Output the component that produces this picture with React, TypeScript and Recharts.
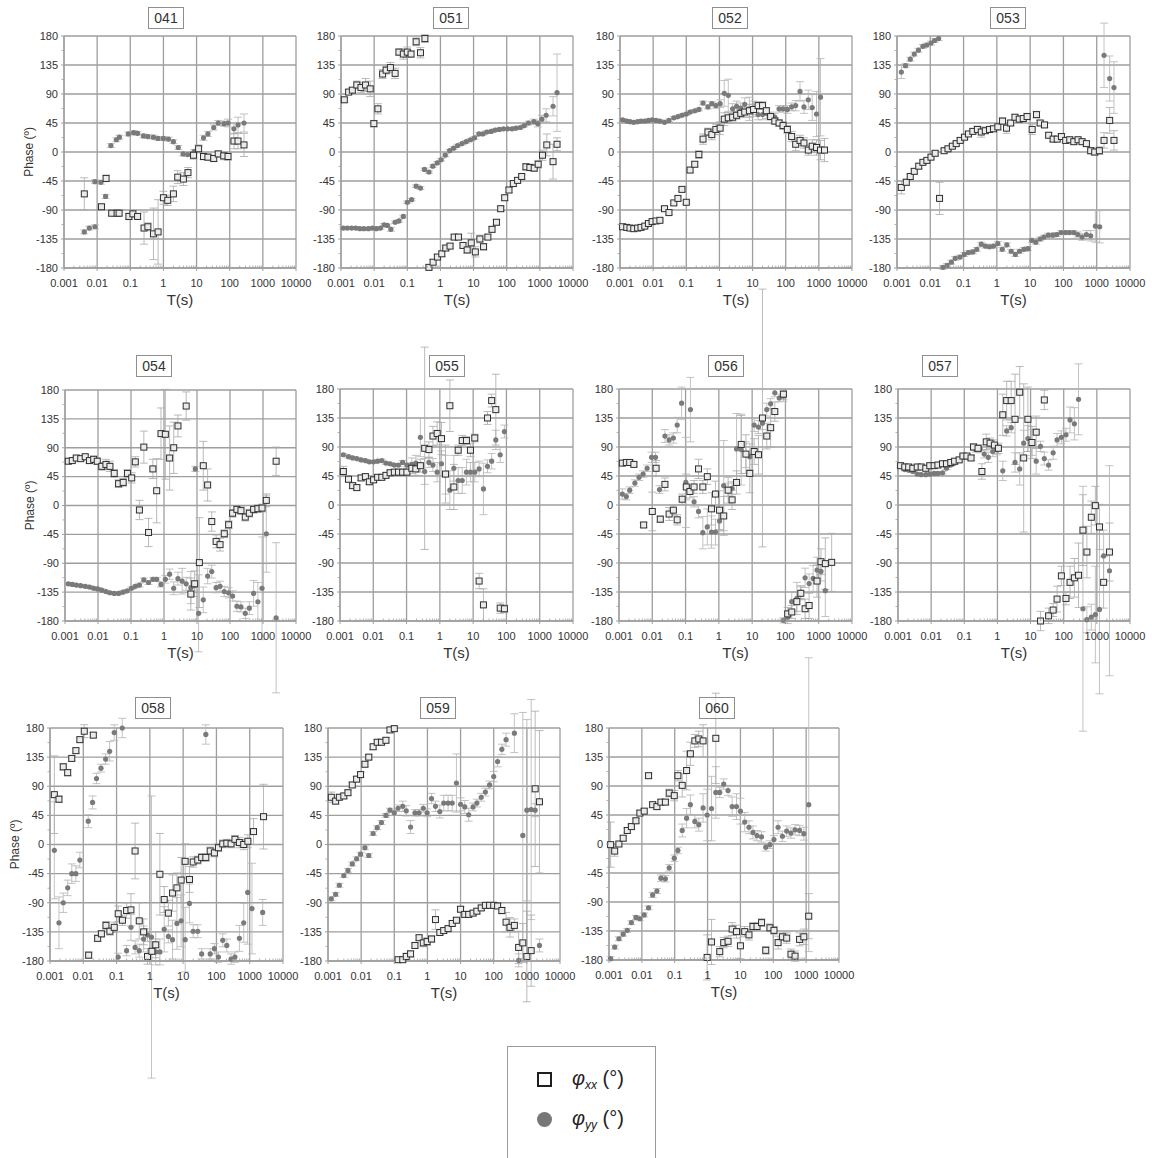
import React from "react";
import { ScatterChart, Scatter, XAxis, YAxis, CartesianGrid, ErrorBar } from "recharts";

// each row: [period T (s), phase (deg), error (deg)]
type Row = [number, number, number];

const periodTicks = [0.001, 0.01, 0.1, 1, 10, 100, 1000, 10000];
const phaseTicks = [-180, -135, -90, -45, 0, 45, 90, 135, 180];
const phaseMinorTicks = [-157.5, -112.5, -67.5, -22.5, 22.5, 67.5, 112.5, 157.5];
const periodMinorTicks = periodTicks
  .slice(0, -1)
  .flatMap((d) => [2, 3, 4, 5, 6, 7, 8, 9].map((m) => +(d * m).toPrecision(3)));
const xTicks = [...periodTicks, ...periodMinorTicks].sort((a, b) => a - b);
const yTicks = [...phaseTicks, ...phaseMinorTicks].sort((a, b) => a - b);

const xx041: Row[] = [[0.0041,-65,25],[0.0135,-85,4],[0.0186,-41,5],[0.0275,-95,4],[0.04,-95,4],[0.046,-95,4],[0.091,-100,5],[0.12,-96,5],[0.166,-100,4],[0.26,-118,25],[0.34,-116,6],[0.5,-127,40],[0.69,-124,50],[1,-71,10],[1.35,-75,8],[2,-65,12],[2.7,-39,10],[4,-42,10],[5.5,-32,8],[8.1,-5,6],[11.5,5,6],[16.2,-7,5],[22,-8,5],[33,-10,5],[45,-3,5],[66,-6,6],[89,-7,6],[134,17,12],[178,17,12],[270,11,18]];
const yy041: Row[] = [[0.0041,-124,3],[0.0058,-118,3],[0.0086,-116,3],[0.0086,-46,3],[0.013,-47,3],[0.018,-69,3],[0.026,10,3],[0.038,19,3],[0.047,23,3],[0.087,28,3],[0.126,30,3],[0.166,29,3],[0.25,25,3],[0.34,24,3],[0.5,23,3],[0.69,21,3],[1,21,3],[1.42,20,3],[2,16,3],[2.8,7,3],[3.9,-3,3],[5.4,-4,3],[8.6,1,3],[11.5,5,4],[16.2,22,4],[22,28,4],[33,38,4],[45,45,4],[67,44,4],[89,45,6],[134,36,8],[178,42,12],[270,45,14]];

const xx051: Row[] = [[0.00126,81,4],[0.0017,93,4],[0.0022,96,4],[0.003,104,6],[0.004,100,8],[0.0055,104,10],[0.0076,98,12],[0.0098,44,5],[0.013,67,8],[0.018,121,7],[0.023,127,6],[0.031,131,8],[0.043,122,8],[0.056,155,5],[0.076,152,8],[0.1,155,8],[0.13,152,5],[0.185,171,6],[0.25,154,8],[0.34,176,6],[0.45,-179,4],[0.6,-171,4],[0.81,-163,4],[1.1,-158,4],[1.45,-149,4],[1.95,-146,4],[2.6,-132,4],[3.5,-132,4],[4.8,-145,4],[6.4,-152,5],[8.5,-141,15],[11.3,-155,8],[15.5,-135,6],[20,-147,5],[27,-132,4],[36,-120,4],[49,-109,4],[66,-88,4],[87,-71,4],[117,-59,4],[158,-49,4],[213,-44,4],[283,-38,4],[380,-23,5],[500,-24,5],[675,-25,5],[890,-19,6],[1200,-5,8],[1620,11,17],[2500,-15,27],[3300,12,10]];
const yy051: Row[] = [[0.00118,-118,2],[0.00155,-118,2],[0.0021,-118,2],[0.0028,-118,2],[0.0037,-119,2],[0.0049,-119,2],[0.0067,-119,2],[0.0089,-118,2],[0.0117,-119,2],[0.0155,-118,2],[0.02,-113,2],[0.025,-114,2],[0.032,-120,3],[0.043,-109,2],[0.056,-107,2],[0.076,-100,2],[0.1,-78,2],[0.135,-74,2],[0.185,-53,2],[0.25,-56,2],[0.33,-27,2],[0.45,-31,2],[0.59,-22,2],[0.8,-17,2],[1.05,-12,2],[1.4,-5,2],[1.9,2,2],[2.5,6,2],[3.3,10,2],[4.5,13,2],[6,16,2],[8.1,19,2],[10.7,22,2],[14.5,28,2],[19,28,2],[25,31,2],[34,32,2],[45,34,2],[60,35,2],[80,36,2],[107,36,2],[145,36,2],[190,37,2],[257,38,2],[340,41,2],[455,45,3],[660,47,4],[870,44,5],[1150,51,6],[1550,57,10],[2500,71,15],[3300,92,60]];

const xx052: Row[] = [[0.0012,-116,2],[0.0016,-117,2],[0.002,-118,2],[0.0026,-119,2],[0.0034,-118,2],[0.0043,-117,2],[0.0056,-115,2],[0.0072,-111,2],[0.0093,-108,2],[0.0122,-107,2],[0.016,-106,2],[0.022,-88,3],[0.03,-94,3],[0.042,-79,3],[0.056,-72,3],[0.074,-58,3],[0.1,-78,3],[0.13,-28,4],[0.18,-19,4],[0.24,-4,6],[0.32,20,8],[0.45,31,6],[0.59,27,8],[0.78,35,8],[1.05,37,10],[1.4,51,10],[1.85,53,8],[2.5,54,6],[3.3,57,6],[4.4,60,6],[5.8,62,8],[8,64,10],[10.7,66,8],[14.7,72,6],[20,72,6],[26,64,5],[35,55,5],[47,48,5],[63,45,5],[83,41,6],[112,35,6],[151,24,8],[200,12,10],[270,18,8],[355,14,8],[480,3,8],[630,9,10],[850,7,12],[1120,3,15],[1480,3,18]];
const yy052: Row[] = [[0.0012,50,2],[0.0016,48,2],[0.002,47,2],[0.0026,46,2],[0.0034,47,2],[0.0043,48,2],[0.0056,48,2],[0.0072,49,2],[0.0093,50,2],[0.0122,49,2],[0.016,48,2],[0.022,46,2],[0.03,49,2],[0.042,53,2],[0.056,55,2],[0.074,57,2],[0.1,59,2],[0.13,62,2],[0.18,64,2],[0.24,66,2],[0.32,76,3],[0.45,70,3],[0.59,75,3],[0.78,72,4],[1.05,75,6],[1.4,91,20],[1.85,88,25],[2.5,67,8],[3.3,71,8],[4.4,68,8],[5.8,74,10],[8,67,18],[10.7,67,12],[14.7,58,8],[20,58,8],[26,60,8],[35,56,6],[47,54,6],[63,67,5],[83,67,5],[112,66,6],[151,70,6],[200,72,8],[270,94,15],[355,70,10],[480,81,15],[630,69,20],[850,59,35],[1120,85,60]];

const xx053: Row[] = [[0.00135,-55,10],[0.0019,-47,5],[0.0025,-38,4],[0.0033,-30,4],[0.0045,-22,4],[0.006,-16,3],[0.0079,-13,3],[0.0105,-8,3],[0.014,-2,3],[0.019,-72,25],[0.026,2,3],[0.034,5,3],[0.046,9,3],[0.06,13,3],[0.079,18,3],[0.107,23,3],[0.14,28,3],[0.19,32,4],[0.26,35,5],[0.34,31,8],[0.45,33,4],[0.6,35,4],[0.79,36,4],[1.07,39,5],[1.48,48,5],[1.95,37,8],[2.6,45,4],[3.5,54,4],[4.7,51,4],[6.2,52,4],[8.1,55,5],[11.5,35,8],[15.5,58,5],[20,45,4],[27,42,4],[36,26,4],[49,20,4],[65,20,4],[87,24,4],[117,18,4],[155,19,4],[205,16,4],[275,19,4],[363,16,4],[490,13,4],[660,2,5],[870,0,5],[1200,2,6],[1660,18,12],[2450,49,20],[3300,18,15]];
const yy053: Row[] = [[0.00135,124,10],[0.0018,134,3],[0.0025,144,3],[0.0033,152,3],[0.0044,158,3],[0.006,164,3],[0.0078,166,3],[0.0105,169,3],[0.0135,173,3],[0.0178,176,3],[0.024,-179,3],[0.032,-176,3],[0.043,-171,3],[0.056,-165,3],[0.078,-163,3],[0.105,-159,3],[0.14,-156,3],[0.19,-155,3],[0.25,-151,3],[0.34,-143,3],[0.45,-146,3],[0.6,-147,3],[0.79,-146,3],[1.07,-142,3],[1.45,-151,3],[2,-144,3],[2.7,-154,3],[3.6,-159,3],[4.8,-154,3],[6.5,-151,3],[8.7,-150,3],[11.2,-137,3],[14.8,-140,3],[20,-135,3],[26,-132,3],[35,-129,3],[48,-129,3],[63,-128,3],[85,-125,3],[115,-125,3],[151,-125,3],[205,-125,3],[270,-128,4],[363,-132,5],[490,-128,6],[660,-130,8],[910,-115,25],[1230,-116,25],[1660,150,50],[2450,114,35],[3300,100,40]];

const xx054: Row[] = [[0.00126,69,3],[0.00166,70,3],[0.0022,74,3],[0.003,73,3],[0.0041,76,3],[0.0055,70,4],[0.0074,72,5],[0.0095,69,5],[0.013,61,6],[0.0174,64,8],[0.023,61,8],[0.031,50,6],[0.042,34,6],[0.058,36,6],[0.078,50,6],[0.105,43,8],[0.135,68,8],[0.18,-7,15],[0.245,91,25],[0.34,-42,22],[0.46,57,15],[0.6,23,50],[0.81,112,40],[1.1,111,70],[1.48,74,50],[1.97,90,40],[2.65,124,17],[4.7,155,22],[6.5,-138,25],[8.5,-122,20],[11.8,-89,70],[15.5,62,38],[21,32,25],[28,-25,15],[38,-56,10],[50,-61,10],[67,-44,6],[91,-30,6],[120,-12,6],[162,-6,6],[215,-8,6],[290,-18,6],[385,-12,6],[520,-6,6],[700,-5,6],[935,-4,6],[1260,8,10],[2500,69,22]];
const yy054: Row[] = [[0.00126,-122,2],[0.00166,-123,2],[0.0022,-124,2],[0.003,-125,2],[0.0041,-126,2],[0.0055,-127,2],[0.0074,-129,2],[0.0097,-130,2],[0.013,-132,2],[0.0174,-134,2],[0.023,-136,2],[0.031,-137,2],[0.042,-137,2],[0.057,-135,2],[0.077,-133,2],[0.103,-129,2],[0.135,-126,2],[0.18,-124,3],[0.245,-116,3],[0.34,-120,3],[0.46,-115,3],[0.6,-115,3],[0.81,-123,4],[1.1,-115,6],[1.48,-107,8],[1.97,-129,10],[2.65,-114,10],[3.55,-118,20],[4.7,-122,10],[6.5,-128,25],[8.3,-125,8],[8.9,57,4],[11.2,-168,60],[15.5,-147,20],[21,-110,12],[28,-103,10],[38,-128,8],[50,-126,8],[67,-134,8],[91,-136,8],[120,-141,8],[162,-157,8],[215,-158,8],[290,-168,8],[385,-160,10],[520,-137,20],[700,-150,30],[935,-129,80],[1260,-44,60],[2500,-175,117]];

const xx055: Row[] = [[0.00126,52,8],[0.0018,40,4],[0.0024,30,4],[0.0032,27,4],[0.0043,42,4],[0.0058,44,4],[0.0076,36,4],[0.0102,39,4],[0.0135,43,4],[0.018,43,4],[0.024,46,4],[0.032,50,4],[0.043,51,4],[0.057,51,4],[0.076,51,4],[0.102,51,4],[0.144,57,8],[0.19,56,10],[0.26,61,10],[0.35,88,157],[0.47,86,12],[0.62,107,15],[0.83,111,18],[1.12,103,25],[1.48,48,45],[2,154,40],[2.63,28,35],[3.55,85,8],[4.7,100,8],[6.3,100,6],[8.3,85,10],[11.2,104,6],[15.1,-118,12],[20.4,-155,25],[27,135,10],[36,162,10],[48,148,55],[65,-160,8],[87,-161,6]];
const yy055: Row[] = [[0.00126,78,2],[0.0018,75,2],[0.0024,73,2],[0.0032,72,2],[0.0043,70,2],[0.0058,69,2],[0.0076,67,2],[0.0102,67,2],[0.0135,68,2],[0.018,69,2],[0.024,65,2],[0.032,64,2],[0.043,62,2],[0.057,62,2],[0.076,66,3],[0.102,62,3],[0.144,63,10],[0.19,65,12],[0.26,105,30],[0.35,52,20],[0.47,66,8],[0.62,62,10],[0.83,51,15],[1.12,64,20],[1.48,47,30],[2,23,30],[2.63,57,20],[3.55,38,20],[4.7,38,20],[6.3,51,20],[8.3,51,15],[11.2,51,15],[15.1,56,12],[20.4,25,40],[27,60,10],[36,68,12],[48,101,15],[65,78,12],[87,114,10]];

const xx056: Row[] = [[0.00126,65,3],[0.00166,66,3],[0.0021,66,3],[0.0028,63,3],[0.0055,-31,4],[0.01,-10,30],[0.013,57,12],[0.0174,-22,5],[0.024,32,10],[0.032,-14,10],[0.043,-8,8],[0.056,-23,8],[0.079,9,8],[0.105,28,20],[0.135,21,10],[0.18,28,10],[0.245,56,15],[0.33,28,10],[0.45,44,12],[0.6,-6,25],[0.79,17,20],[1.05,-8,30],[1.4,-17,30],[1.9,23,20],[2.5,8,15],[3.4,35,18],[4.7,94,45],[6.5,79,30],[8.5,49,30],[11.5,83,20],[15.5,78,30],[20.4,135,200],[27.5,107,20],[36,120,30],[48,145,15],[87,172,8],[117,-169,10],[155,-166,10],[220,-150,15],[290,-137,10],[390,-161,15],[515,-156,20],[890,-118,25],[1170,-88,20],[1580,-91,40],[2450,-89,45]];
const yy056: Row[] = [[0.00126,17,8],[0.00166,13,5],[0.0021,23,5],[0.003,34,5],[0.004,43,5],[0.0053,48,5],[0.007,57,5],[0.0095,74,8],[0.0125,74,8],[0.0165,24,6],[0.024,107,10],[0.032,101,8],[0.043,104,8],[0.056,124,12],[0.076,158,25],[0.102,35,70],[0.14,148,50],[0.18,5,8],[0.245,-10,10],[0.33,-43,25],[0.45,-34,28],[0.6,-42,25],[0.79,-42,20],[1.05,-25,15],[1.4,30,70],[1.9,24,10],[2.5,26,10],[3.4,87,55],[4.7,86,55],[6.5,78,20],[8.5,75,20],[11.5,124,10],[15.5,121,10],[20.4,127,10],[27.5,148,10],[36,157,8],[48,174,6],[65,166,6],[87,169,8],[87,-179,4],[117,-174,10],[155,-150,15],[220,-145,25],[290,-135,10],[390,-113,15],[515,-122,15],[680,-114,20],[890,-101,20],[1170,-103,15],[1580,-133,40]];

const xx057: Row[] = [[0.0012,61,3],[0.0016,59,3],[0.0021,59,3],[0.0028,57,3],[0.0038,59,3],[0.005,59,3],[0.0069,57,3],[0.0091,61,3],[0.0123,61,3],[0.016,62,3],[0.022,64,3],[0.029,64,3],[0.039,66,3],[0.051,68,3],[0.07,70,3],[0.091,76,3],[0.12,76,3],[0.16,73,4],[0.19,90,5],[0.26,88,5],[0.34,52,12],[0.46,98,12],[0.6,96,8],[0.81,93,8],[1.07,88,8],[1.45,140,32],[1.9,162,30],[2.6,162,30],[3.4,133,70],[4.7,175,40],[6.2,73,115],[8.3,133,50],[11,97,25],[14.8,113,25],[20,-180,15],[26,163,15],[35,-172,12],[48,-163,10],[63,-146,20],[85,-110,15],[117,-145,10],[155,-120,25],[210,-113,30],[280,-109,50],[380,-39,55],[500,-73,40],[680,-19,25],[900,-1,30],[1200,-34,35],[1600,-120,40],[2400,-73,45]];
const yy057: Row[] = [[0.0012,60,2],[0.0016,55,2],[0.0021,54,2],[0.0028,52,2],[0.0038,48,2],[0.005,47,2],[0.0069,47,2],[0.0091,48,2],[0.0123,49,2],[0.016,49,2],[0.022,50,2],[0.029,57,2],[0.039,62,2],[0.051,65,2],[0.07,70,2],[0.091,75,2],[0.12,75,3],[0.16,73,4],[0.22,86,4],[0.3,87,6],[0.4,79,6],[0.53,74,8],[0.72,83,8],[0.96,86,8],[1.45,53,15],[1.9,115,8],[2.6,120,8],[3.4,66,15],[4.7,56,25],[6.2,96,20],[8.3,103,20],[11,97,20],[14.8,68,20],[20,91,8],[26,72,10],[35,62,8],[48,81,10],[63,101,10],[85,105,10],[117,109,10],[155,132,20],[210,126,25],[280,164,55],[380,-161,190],[500,-178,20],[680,-174,20],[900,-170,75],[1200,-162,131],[1600,-79,40],[2400,-102,163]];

const xx058: Row[] = [[0.00135,77,60],[0.00186,70,5],[0.0025,120,5],[0.0034,111,5],[0.0045,133,4],[0.006,145,4],[0.0079,162,4],[0.0107,175,10],[0.0145,-171,5],[0.02,169,4],[0.027,-145,5],[0.035,-138,5],[0.048,-125,6],[0.063,-134,6],[0.085,-128,8],[0.112,-107,12],[0.15,-117,8],[0.2,-102,12],[0.27,-101,25],[0.36,-10,43],[0.48,-118,28],[0.65,-135,20],[0.85,-173,12],[1.15,-165,15],[1.5,-155,20],[2,-46,63],[2.7,-85,20],[3.6,-106,20],[4.8,-75,28],[6.5,-67,23],[8.7,-55,35],[11.5,-26,27],[15.5,-54,20],[20,-27,8],[27.5,-24,6],[36,-20,6],[48,-20,6],[65,-10,6],[87,-13,6],[115,-5,6],[155,1,6],[205,2,6],[275,1,6],[360,8,6],[490,3,8],[660,0,8],[880,5,10],[1300,20,20],[2600,43,50]];
const yy058: Row[] = [[0.00135,-9,75],[0.00186,-121,40],[0.0025,-90,15],[0.0034,-67,12],[0.0045,-45,15],[0.006,-45,12],[0.0079,-24,12],[0.0141,36,10],[0.019,65,10],[0.025,102,8],[0.034,118,6],[0.047,132,8],[0.062,144,15],[0.085,173,12],[0.112,-174,6],[0.148,180,15],[0.2,-164,8],[0.27,-128,20],[0.36,-159,10],[0.48,-164,10],[0.65,-146,20],[0.85,-140,10],[1.12,-143,218],[1.5,-166,20],[2,-166,20],[2.7,-131,35],[3.6,-142,10],[4.8,-147,30],[6.5,-122,40],[8.7,-118,40],[11.5,-147,50],[15.5,-91,30],[20,-134,10],[27.5,-134,10],[36,-169,8],[48,170,15],[65,-169,8],[87,-161,8],[115,-174,8],[155,-148,10],[205,-156,10],[275,-177,8],[360,-174,8],[490,-145,20],[660,-121,30],[870,-74,80],[1170,-99,70],[2450,-105,20]];

const xx059: Row[] = [[0.00126,73,8],[0.0017,67,4],[0.0022,73,4],[0.003,75,4],[0.004,80,4],[0.0054,92,4],[0.0073,101,4],[0.0096,108,4],[0.013,124,4],[0.017,135,4],[0.023,151,4],[0.0305,158,4],[0.041,158,4],[0.056,161,4],[0.074,177,4],[0.1,179,4],[0.13,-178,3],[0.18,-178,3],[0.23,-173,5],[0.31,-169,5],[0.42,-156,4],[0.56,-144,4],[0.75,-152,6],[0.98,-150,6],[1.33,-146,5],[1.75,-116,15],[2.37,-136,4],[3.1,-133,4],[4.2,-130,4],[5.6,-122,4],[7.5,-117,4],[10,-100,4],[13.4,-108,4],[17.6,-108,4],[23.8,-106,4],[31,-103,4],[42,-98,4],[56,-94,4],[75,-94,4],[100,-94,4],[131,-95,4],[176,-102,5],[236,-120,15],[310,-128,15],[420,-125,10],[565,-159,25],[755,-152,30],[1000,-173,70],[1350,-164,55],[1780,86,120],[2400,66,110]];
const yy059: Row[] = [[0.00126,-84,3],[0.0017,-77,3],[0.0022,-63,3],[0.003,-48,3],[0.004,-40,3],[0.0054,-30,3],[0.0073,-22,3],[0.0096,-15,3],[0.013,-5,3],[0.017,-17,3],[0.023,17,3],[0.0305,26,3],[0.041,34,3],[0.056,45,3],[0.074,53,3],[0.1,49,4],[0.13,56,5],[0.18,59,8],[0.23,52,8],[0.31,27,10],[0.42,49,5],[0.56,49,5],[0.75,56,6],[0.98,49,6],[1.33,71,8],[1.75,59,8],[2.37,51,10],[3.1,64,12],[4.2,64,12],[5.6,64,12],[7.5,95,45],[10,62,10],[13.4,58,10],[17.6,46,10],[23.8,58,6],[31,64,6],[42,73,6],[56,81,6],[75,92,6],[100,105,8],[131,128,8],[176,147,8],[236,162,10],[420,172,30],[565,-179,10],[755,14,190],[1000,53,140],[1350,54,170],[1780,53,10],[2400,-156,10]];

const xx060: Row[] = [[0.00112,-1,35],[0.00149,-11,8],[0.002,0,4],[0.0027,9,4],[0.0036,21,4],[0.0048,27,4],[0.0066,36,4],[0.0087,48,4],[0.0118,51,4],[0.016,106,4],[0.0213,61,4],[0.0287,58,4],[0.038,65,4],[0.052,65,4],[0.068,79,6],[0.097,75,8],[0.125,106,8],[0.169,91,18],[0.23,114,30],[0.3,140,18],[0.41,160,10],[0.54,163,12],[0.73,160,25],[0.97,-176,35],[1.32,-152,35],[1.78,164,70],[2.35,-167,8],[3.1,-153,8],[4.2,-151,8],[5.6,-132,10],[7.6,-136,10],[10,-158,20],[13.5,-136,8],[18.2,-141,8],[24,-128,6],[32,-128,6],[44,-122,6],[59,-165,6],[79,-130,6],[105,-134,6],[140,-153,10],[190,-144,6],[256,-146,8],[345,-171,8],[460,-174,8],[630,-148,10],[850,-144,12],[1200,-112,35]];
const yy060: Row[] = [[0.00112,-178,3],[0.00149,-160,3],[0.002,-147,3],[0.0027,-140,3],[0.0036,-134,3],[0.0048,-122,3],[0.0066,-114,3],[0.0087,-116,3],[0.0118,-110,3],[0.016,-99,3],[0.0213,-79,4],[0.0287,-73,4],[0.038,-53,5],[0.052,-54,5],[0.068,-37,5],[0.097,-22,5],[0.125,-10,5],[0.169,21,10],[0.23,40,15],[0.3,61,15],[0.41,35,10],[0.54,30,10],[0.73,56,22],[0.97,45,40],[1.32,55,50],[1.78,80,40],[2.35,80,8],[3.1,93,8],[4.2,83,8],[5.6,58,15],[7.6,58,20],[10,51,20],[13.5,34,15],[18.2,26,10],[24,18,10],[32,13,8],[44,11,8],[59,-5,6],[79,-1,6],[105,7,6],[140,26,10],[190,12,8],[256,20,8],[345,17,8],[460,22,8],[630,21,8],[850,16,10],[1200,61,228]];

const GRID = "#9e9e9e";
const TEXT = "#333";
const Y_AXIS_W = 45;
const X_AXIS_H = 45;
const PAD_TOP = 10;
const PAD_RIGHT = 25;

const toPoints = (rows: Row[]) => rows.map(([T, v, err]) => ({ T, v, err }));

const renderXTick = (props: any) => {
  const { x, y, payload } = props;
  const base = y - 11;
  if (periodTicks.includes(payload.value)) {
    return (
      <g>
        <line x1={x} x2={x} y1={base} y2={base + 3} stroke={GRID} />
        <text x={x} y={y} dy="0.71em" textAnchor="middle" fontSize={11} fill={TEXT}>
          {String(payload.value)}
        </text>
      </g>
    );
  }
  return <line x1={x} x2={x} y1={base - 2.5} y2={base} stroke={GRID} strokeWidth={0.8} />;
};

const renderYTick = (props: any) => {
  const { x, y, payload } = props;
  const base = x + 6;
  if (phaseTicks.includes(payload.value)) {
    return (
      <g>
        <line x1={base - 3} x2={base} y1={y} y2={y} stroke={GRID} />
        <text x={x} y={y} dy="0.35em" textAnchor="end" fontSize={11} fill={TEXT}>
          {payload.value}
        </text>
      </g>
    );
  }
  return <line x1={base - 2.5} x2={base} y1={y} y2={y} stroke={GRID} strokeWidth={0.8} />;
};

const SquareMark = (props: any) => {
  const { cx, cy } = props;
  if (cx == null || cy == null) return <g />;
  return <rect x={cx - 3} y={cy - 3} width={6} height={6} fill="#ebebeb" stroke="#2e2e2e" strokeWidth={1} />;
};

const DotMark = (props: any) => {
  const { cx, cy } = props;
  if (cx == null || cy == null) return <g />;
  return <circle cx={cx} cy={cy} r={2.6} fill="#7a7a7a" />;
};

interface PanelSpec {
  id: string;
  xx: Row[];
  yy: Row[];
  left: number;
  top: number;
  w: number;
  h: number;
  titleX: number;
  titleY: number;
  yLabel?: boolean;
}

const panels: PanelSpec[] = [
  { id: "041", xx: xx041, yy: yy041, left: 64, top: 36, w: 232, h: 232, titleX: 148, titleY: 7, yLabel: true },
  { id: "051", xx: xx051, yy: yy051, left: 341, top: 36, w: 232, h: 232, titleX: 433, titleY: 7 },
  { id: "052", xx: xx052, yy: yy052, left: 620, top: 36, w: 232, h: 232, titleX: 712, titleY: 7 },
  { id: "053", xx: xx053, yy: yy053, left: 897, top: 36, w: 233, h: 232, titleX: 990, titleY: 7 },
  { id: "054", xx: xx054, yy: yy054, left: 65, top: 390, w: 231, h: 231, titleX: 136, titleY: 355, yLabel: true },
  { id: "055", xx: xx055, yy: yy055, left: 340, top: 389, w: 233, h: 232, titleX: 429, titleY: 355 },
  { id: "056", xx: xx056, yy: yy056, left: 619, top: 389, w: 233, h: 232, titleX: 708, titleY: 355 },
  { id: "057", xx: xx057, yy: yy057, left: 898, top: 389, w: 232, h: 232, titleX: 922, titleY: 355 },
  { id: "058", xx: xx058, yy: yy058, left: 50, top: 728, w: 233, h: 233, titleX: 135, titleY: 697, yLabel: true },
  { id: "059", xx: xx059, yy: yy059, left: 328, top: 728, w: 232, h: 233, titleX: 420, titleY: 697 },
  { id: "060", xx: xx060, yy: yy060, left: 609, top: 728, w: 230, h: 232, titleX: 699, titleY: 697 },
];

function Panel({ p }: { p: PanelSpec }) {
  const width = p.w + Y_AXIS_W + PAD_RIGHT;
  const height = p.h + PAD_TOP + X_AXIS_H;
  return (
    <>
      <div style={{ position: "absolute", left: p.left - Y_AXIS_W, top: p.top - PAD_TOP }}>
        <ScatterChart width={width} height={height} margin={{ top: PAD_TOP, right: PAD_RIGHT, bottom: 0, left: 0 }}>
          <CartesianGrid stroke={GRID} strokeWidth={1.3} verticalValues={periodTicks} horizontalValues={phaseTicks} />
          <XAxis
            type="number"
            dataKey="T"
            scale="log"
            domain={[0.001, 10000]}
            allowDataOverflow
            ticks={xTicks}
            interval={0}
            tick={renderXTick}
            tickLine={false}
            tickSize={4}
            tickMargin={7}
            height={X_AXIS_H}
            axisLine={{ stroke: GRID, strokeWidth: 1.3 }}
            label={{ value: "T(s)", position: "insideBottom", offset: 8, fontSize: 15, fill: TEXT }}
          />
          <YAxis
            type="number"
            dataKey="v"
            domain={[-180, 180]}
            allowDataOverflow
            ticks={yTicks}
            interval={0}
            tick={renderYTick}
            tickLine={false}
            tickSize={3}
            tickMargin={3}
            width={Y_AXIS_W}
            axisLine={{ stroke: GRID, strokeWidth: 1.3 }}
            label={
              p.yLabel
                ? { value: "Phase (º)", angle: -90, position: "insideLeft", offset: 10, fontSize: 12, fill: TEXT, style: { textAnchor: "middle" } }
                : undefined
            }
          />
          <Scatter name="φyy" data={toPoints(p.yy)} shape={DotMark} isAnimationActive={false}>
            <ErrorBar dataKey="err" direction="y" width={4} stroke="#b4b4b4" strokeWidth={0.8} />
          </Scatter>
          <Scatter name="φxx" data={toPoints(p.xx)} shape={SquareMark} isAnimationActive={false}>
            <ErrorBar dataKey="err" direction="y" width={4} stroke="#a8a8a8" strokeWidth={0.8} />
          </Scatter>
        </ScatterChart>
      </div>
      <div
        style={{
          position: "absolute",
          left: p.titleX,
          top: p.titleY,
          width: 36,
          height: 22,
          boxSizing: "border-box",
          border: "1px solid #8f8f8f",
          background: "rgba(255,255,255,0.6)",
          fontSize: 14,
          lineHeight: "20px",
          textAlign: "center",
          color: TEXT,
        }}
      >
        {p.id}
      </div>
    </>
  );
}

function LegendBox() {
  const row = (top: number, icon: React.ReactNode, sub: string) => (
    <div style={{ position: "absolute", left: 0, top, width: "100%", height: 30 }}>
      <div style={{ position: "absolute", left: 29, top: 7 }}>{icon}</div>
      <div style={{ position: "absolute", left: 64, top: 2, fontSize: 20, color: "#222", whiteSpace: "nowrap" }}>
        <span style={{ fontStyle: "italic" }}>φ</span>
        <span style={{ fontStyle: "italic", fontSize: 12, position: "relative", top: 4 }}>{sub}</span>
        <span> (°)</span>
      </div>
    </div>
  );
  return (
    <div
      style={{
        position: "absolute",
        left: 507,
        top: 1046,
        width: 149,
        height: 120,
        boxSizing: "border-box",
        border: "1px solid #9a9a9a",
      }}
    >
      {row(18, <div style={{ width: 15, height: 15, boxSizing: "border-box", border: "2.5px solid #1e1e1e", background: "#fff" }} />, "xx")}
      {row(58, <div style={{ width: 15, height: 15, borderRadius: "50%", background: "#777" }} />, "yy")}
    </div>
  );
}

export default function App() {
  return (
    <div
      style={{
        position: "absolute",
        left: 0,
        top: 0,
        width: 1152,
        height: 1158,
        overflow: "hidden",
        background: "#fff",
        fontFamily: "'Liberation Sans', Arial, sans-serif",
      }}
    >
      <style>{`.recharts-surface{overflow:visible}.recharts-surface [clip-path]{clip-path:none !important}`}</style>
      {panels.map((p) => (
        <Panel key={p.id} p={p} />
      ))}
      <LegendBox />
    </div>
  );
}
